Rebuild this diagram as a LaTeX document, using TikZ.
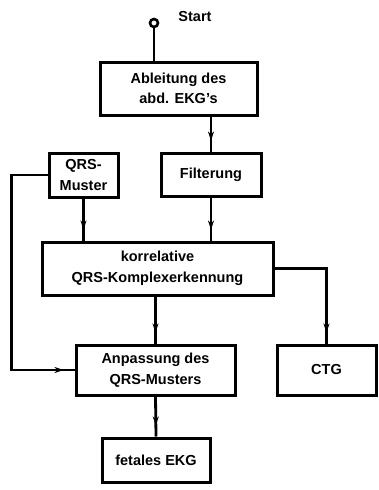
\documentclass[tikz,border=0pt]{standalone}
\usepackage{fontspec}
\setmainfont{Liberation Sans}
\usepackage{tikz}
\usetikzlibrary{arrows.meta,decorations.markings}

\begin{document}
\begin{tikzpicture}[x=1pt,y=-1pt,
    block/.style={shape=rectangle,draw=black,line width=3,align=center,
        inner sep=0pt,font=\bfseries\fontsize{14.5}{20.5}\selectfont},
    flow/.style={line width=2.8,postaction={decorate},
        decoration={markings,mark=at position -11pt with {\arrow{Stealth[length=9pt,width=6pt]}}}}]
    \useasboundingbox (0,0) rectangle (378,490);

    \node[shape=circle,draw=black,line width=2.6,minimum size=8pt,inner sep=0pt] (S) at (154,23) {};
    \node[font=\bfseries\fontsize{14.5}{17}\selectfont] (L) at (195,17) {Start};

    \node[block,minimum width=157,minimum height=53] (A) at (178.5,88.5) {Ableitung des\\abd. EKG's};
    \node[block,minimum width=69,minimum height=44] (Q) at (83.5,175) {QRS-\\Muster};
    \node[block,minimum width=100,minimum height=43] (F) at (211,174.5) {Filterung};
    \node[block,minimum width=231,minimum height=53] (K) at (157.5,268.5) {korrelative\\QRS-Komplexerkennung};
    \node[block,minimum width=159,minimum height=50] (P) at (155.5,370) {Anpassung des\\QRS-Musters};
    \node[block,minimum width=99,minimum height=50] (C) at (326.5,370) {CTG};
    \node[block,minimum width=108,minimum height=44] (E) at (156,460) {fetales EKG};

    \draw[line width=2.8] (S) -- (S |- A.north);
    \draw[flow] (A.south -| F.north) -- (F.north);
    \draw[flow] (Q.south) -- (Q.south |- K.north);
    \draw[flow] (F.south) -- (F.south |- K.north);
    \draw[flow] (K.south -| P.north) -- (P.north);
    \draw[flow] (K.east) -| (C.north);
    \draw[flow] (Q.west) -- ++(-36,0) |- (P.west);
    \draw[flow] (P.south) -- (E.north);

\end{tikzpicture}
\end{document}
